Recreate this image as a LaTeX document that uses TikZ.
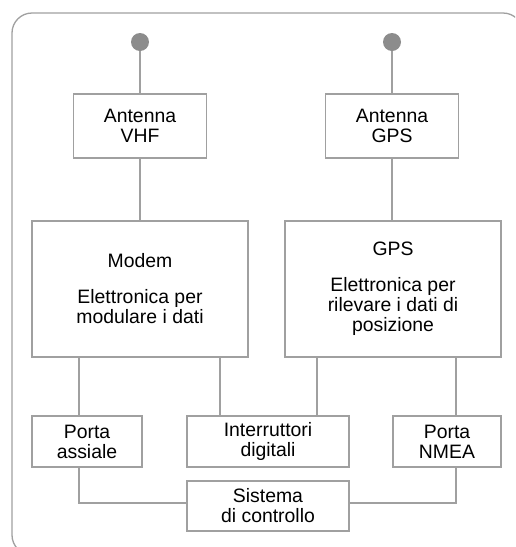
\documentclass[tikz,border=0pt]{standalone}
\usepackage{fontspec}
\setmainfont{Liberation Sans}
\usetikzlibrary{positioning}

\definecolor{linegray}{HTML}{A0A0A0}
\definecolor{dotgray}{HTML}{8C8C8C}

\tikzset{
  blk/.style={draw=linegray, line width=0.65pt, align=center, inner sep=0pt,
    font=\fontsize{9.7}{10}\selectfont, text=black},
  antbox/.style={blk, minimum width=66.5pt, minimum height=32pt},
  bigbox/.style={blk, minimum width=108pt, minimum height=68pt},
  smallbox/.style={blk, minimum height=25.5pt},
  conn/.style={draw=linegray, line width=0.65pt},
  antdot/.style={circle, fill=dotgray, minimum size=9pt, inner sep=0pt},
}

\begin{document}
\begin{tikzpicture}[x=0.5pt,y=-0.5pt]
\useasboundingbox (0,0) rectangle (515,547);
% outer frame, partly cut by the page edge
\begin{scope}
  \clip (0,0) rectangle (515,547);
  \draw[linegray, line width=0.65pt, rounded corners=10pt] (12,13) rectangle (523,555);
\end{scope}

% antennas
\node[antdot] (dotvhf) at (140,42) {};
\node[antdot] (dotgps) at (392,42) {};
\node[antbox] (antvhf) at (140,126) {Antenna\\VHF};
\node[antbox] (antgps) at (392,126) {Antenna\\GPS};

% electronics
\node[bigbox] (modem) at (140,289) {Modem\\[8pt]Elettronica per\\modulare i dati};
\node[bigbox] (gps) at (393,289) {GPS\\[8pt]Elettronica per\\rilevare i dati di\\posizione};

% ports and control
\node[smallbox, minimum width=55pt] (assiale) at (87,441.5) {Porta\\assiale};
\node[smallbox, minimum width=81pt] (switch) at (268,441.5) {Interruttori\\digitali};
\node[smallbox, minimum width=54pt] (nmea) at (447,441.5) {Porta\\NMEA};
\node[smallbox, minimum width=81pt, minimum height=25pt] (control) at (268,506) {Sistema\\di controllo};

\coordinate (xa) at (79,0);
\coordinate (xb) at (220,0);
\coordinate (xc) at (317,0);
\coordinate (xd) at (456,0);
\coordinate (ybus) at (0,503);

\draw[conn] (dotvhf) -- (antvhf);
\draw[conn] (dotgps) -- (antgps);
\draw[conn] (antvhf) -- (modem);
\draw[conn] (antgps.south) -- (antgps.south |- gps.north);
\draw[conn] (modem.south -| xa) -- (assiale.north -| xa);
\draw[conn] (modem.south -| xb) -- (switch.north -| xb);
\draw[conn] (gps.south -| xc) -- (switch.north -| xc);
\draw[conn] (gps.south -| xd) -- (nmea.north -| xd);
\draw[conn] (assiale.south -| xa) |- (control.west |- ybus);
\draw[conn] (nmea.south -| xd) |- (control.east |- ybus);
\end{tikzpicture}
\end{document}
